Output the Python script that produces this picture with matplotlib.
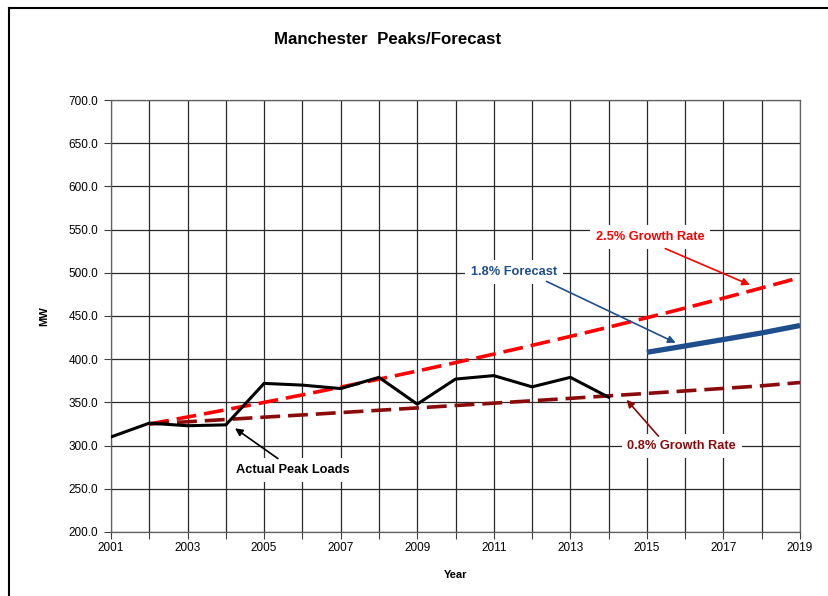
import matplotlib
matplotlib.use("Agg")
import matplotlib.pyplot as plt
from matplotlib.lines import Line2D

plt.rcParams['font.family'] = ['Liberation Sans', 'DejaVu Sans']

years_actual = [2001, 2002, 2003, 2004, 2005, 2006, 2007, 2008, 2009, 2010, 2011, 2012, 2013, 2014]
actual_peaks = [310, 326, 323, 324, 372, 370, 366, 379, 348, 377, 381, 368, 379, 356]

years_growth = [2002, 2003, 2004, 2005, 2006, 2007, 2008, 2009, 2010, 2011,
                2012, 2013, 2014, 2015, 2016, 2017, 2018, 2019]
growth_25 = [325, 333.1, 341.5, 350.0, 358.7, 367.7, 376.9, 386.3, 396.0, 405.9,
             416.0, 426.4, 437.1, 448.0, 459.2, 470.7, 482.5, 494.5]
growth_08 = [325, 327.6, 330.2, 332.9, 335.5, 338.2, 340.9, 343.6, 346.4, 349.1,
             351.9, 354.7, 357.6, 360.4, 363.3, 366.2, 369.2, 373.0]

years_forecast = [2015, 2016, 2017, 2018, 2019]
forecast_18 = [408, 415.3, 422.8, 430.4, 439.0]

x_ticks = [2001, 2003, 2005, 2007, 2009, 2011, 2013, 2015, 2017, 2019]
y_ticks = [200, 250, 300, 350, 400, 450, 500, 550, 600, 650, 700]

fig = plt.figure(figsize=(8.29, 5.96), dpi=100)
ax = fig.add_axes([111/829, 1-532/596, (800-111)/829, (532-100)/596])

ax.plot(years_growth, growth_25, color='#FF0000', lw=2.6, dashes=(5.5, 2.2), zorder=3)
ax.plot(years_growth, growth_08, color='#8B0A0A', lw=2.6, dashes=(5.5, 2.2), zorder=3)
ax.plot(years_actual, actual_peaks, color='black', lw=2.2, zorder=4)
ax.plot(years_forecast, forecast_18, color='#1F4E8C', lw=3.8, zorder=4, solid_capstyle='butt')

ax.set_xlim(2001, 2019)
ax.set_ylim(200, 700)
ax.set_xticks(range(2001, 2020))
ax.set_xticklabels([str(y) if y in x_ticks else '' for y in range(2001, 2020)])
ax.set_yticks(y_ticks)
ax.set_yticklabels([f"{v:.1f}" for v in y_ticks])
ax.grid(True, color='#2a2a2a', lw=0.9, zorder=0)
ax.set_axisbelow(True)
ax.tick_params(axis='both', direction='out', length=5, width=0.8, color='#404040',
               labelsize=8.5)
ax.tick_params(axis='y', pad=4)
ax.tick_params(axis='x', pad=2)
for s in ax.spines.values():
    s.set_color('#606060')
    s.set_linewidth(0.9)

ax.set_xlabel('Year', fontsize=8, fontweight='bold', labelpad=12)
ax.set_ylabel('MW', fontsize=8, fontweight='bold', labelpad=14)

fig.text(388/829, 1-40/596, 'Manchester  Peaks/Forecast', ha='center', va='center',
         fontsize=12.2, fontweight='bold')

box = dict(boxstyle='square,pad=0.45', fc='white', ec='none')


def label(txt, xy_text, xy_start, xy_tip, color):
    ax.text(xy_text[0], xy_text[1], txt, fontsize=9.2, fontweight='bold', color=color,
            ha='center', va='center', bbox=box, zorder=6)
    ax.annotate('', xy=xy_tip, xytext=xy_start, zorder=7,
                arrowprops=dict(arrowstyle='-|>', color=color, lw=1.2,
                                mutation_scale=11, shrinkA=0, shrinkB=0))


label('2.5% Growth Rate', (2015.08, 541.5), (2015.48, 528), (2017.69, 486), '#FF0000')
label('1.8% Forecast', (2011.53, 501), (2012.38, 490), (2015.75, 419), '#1F4E8C')
label('0.8% Growth Rate', (2015.91, 299.5), (2015.3, 311), (2014.47, 353), '#8B0A0A')
label('Actual Peak Loads', (2005.75, 271.8), (2005.36, 285), (2004.24, 320), 'black')

# figure frame (top and left edges)
fig.add_artist(Line2D([9/829, 9/829], [0, 1-8/596], transform=fig.transFigure,
                      color='black', lw=1.5))
fig.add_artist(Line2D([9/829, 1], [1-8/596, 1-8/596], transform=fig.transFigure,
                      color='black', lw=1.5))

fig.savefig('out.png', dpi=100)
